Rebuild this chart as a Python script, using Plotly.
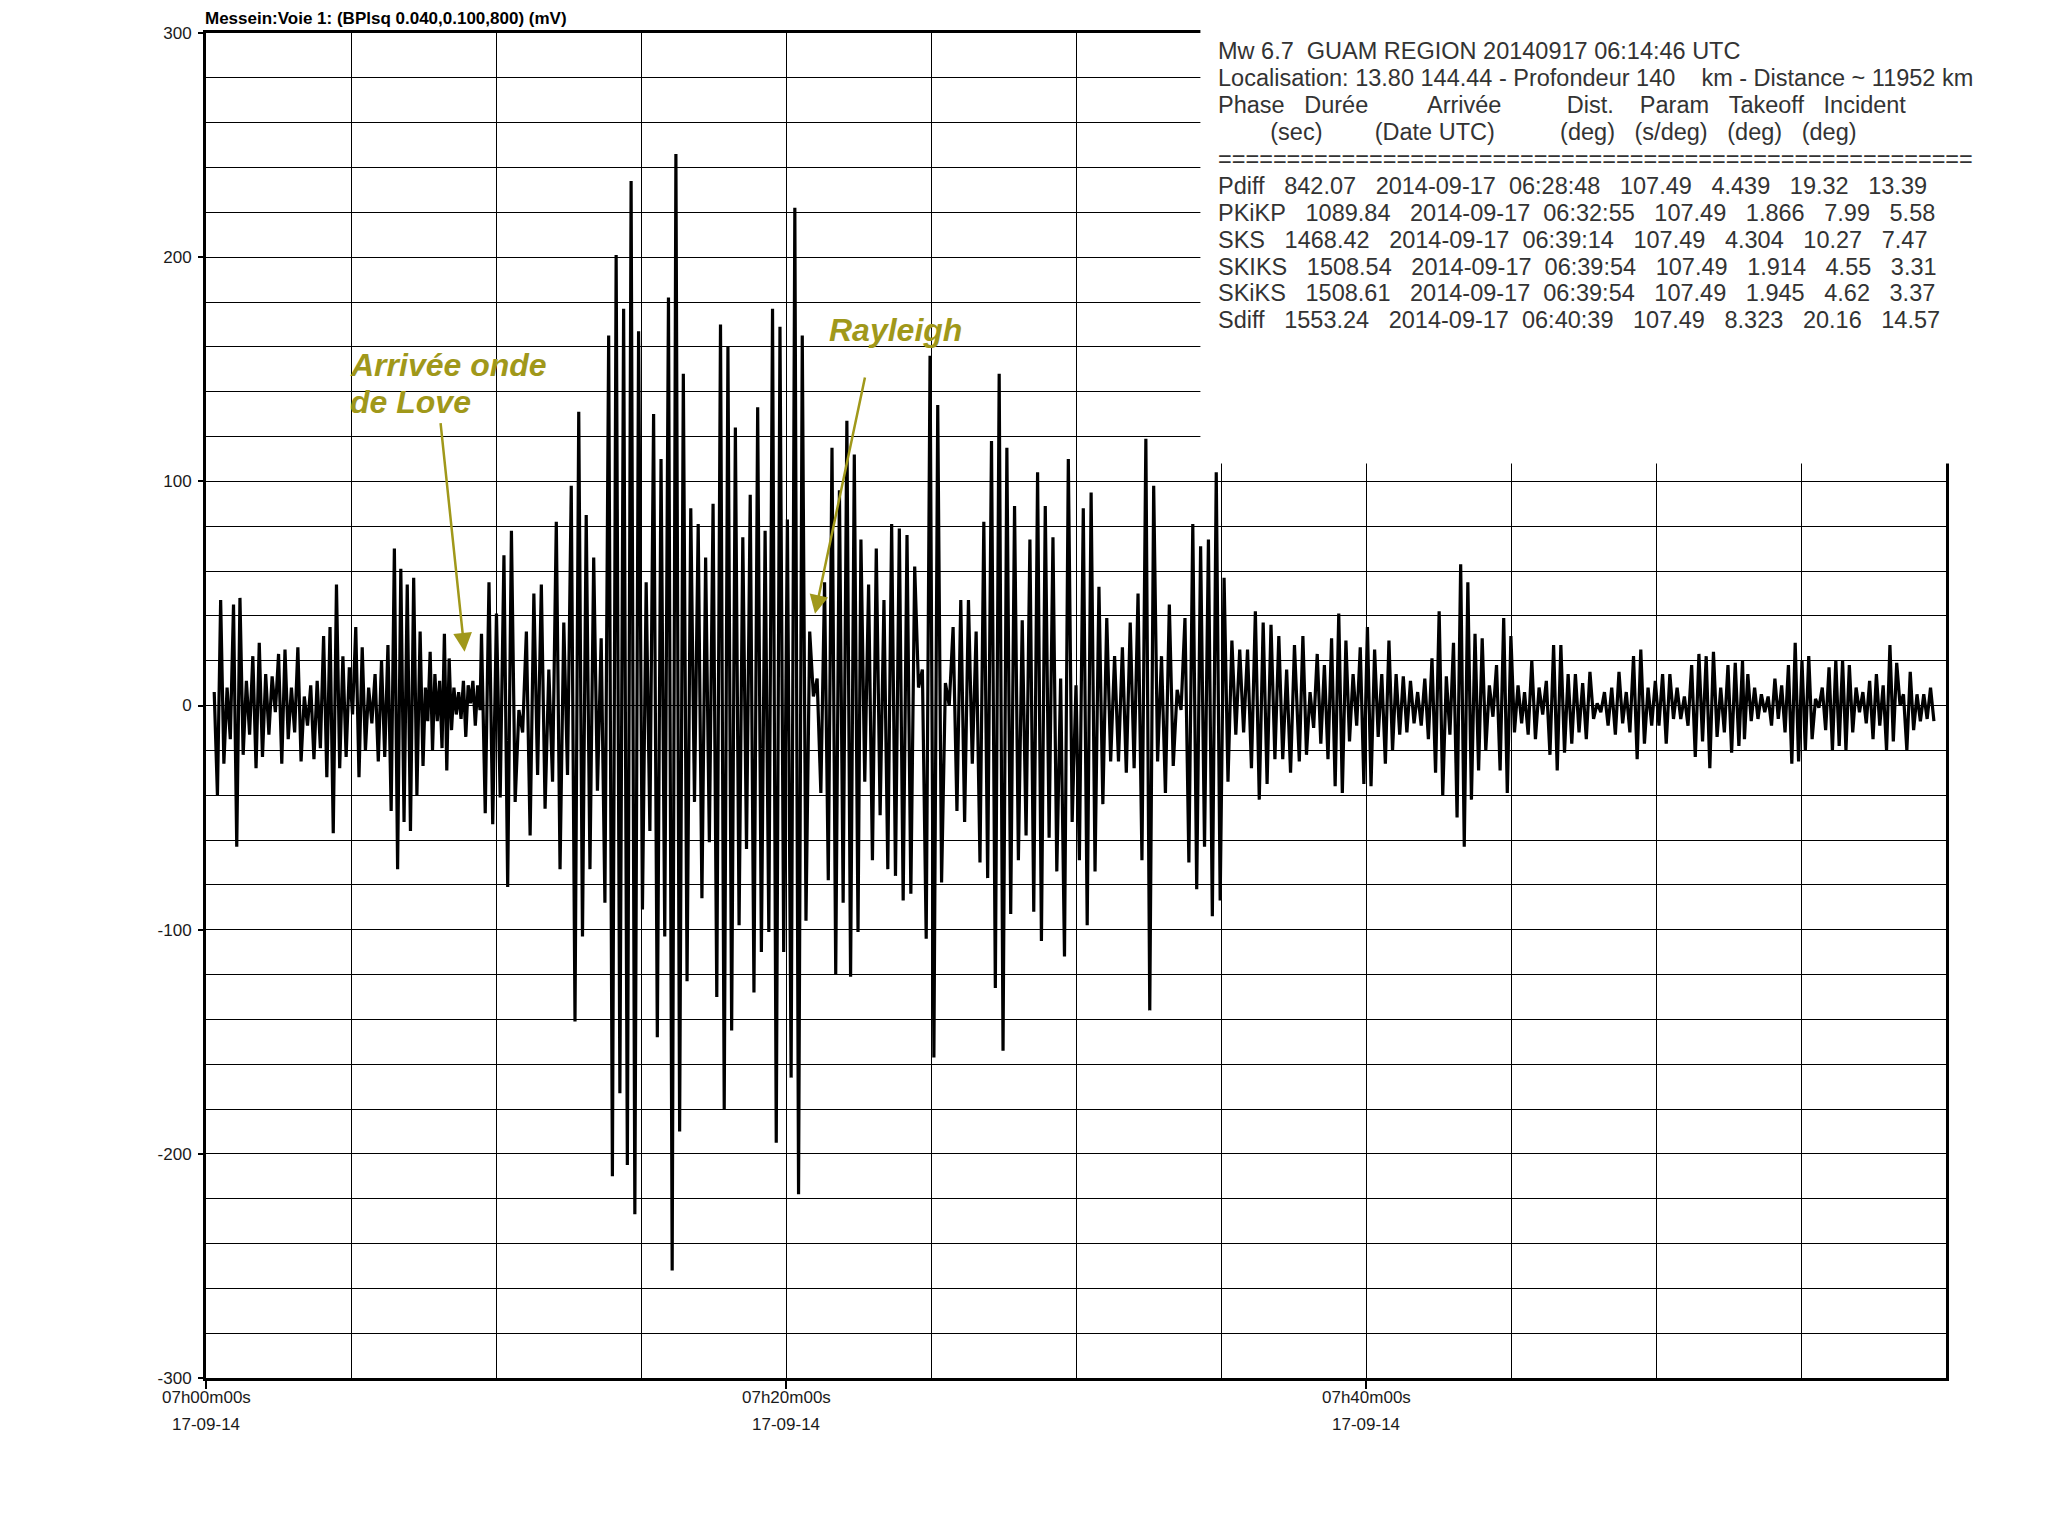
import numpy as np
import pandas as pd
import plotly.graph_objects as go

START = pd.Timestamp("2014-09-17 07:00:00")

##### Seismogram, read as successive peaks / troughs (mV), segment by segment
# segment bounds in seconds after 07h00m00s
SEG_T0 = [17, 449, 570, 903, 1355, 1807, 2262, 2728, 3183]
SEG_T1 = [443, 567, 895, 1349, 1800, 2252, 2722, 3179, 3575]

SEG1 = [6, -40, 47, -26, 8, -15, 45, -63, 48, -22, 11, -13, 22, -28, 28, -23, 14, -13, 13, -3,
        23, -26, 25, -15, 8, -12, 26, -25, 4, -9, 9, -24, 11, -19, 31, -32, 35, -57, 54, -28,
        22, -23, 17, -4, 35, -32, 26, -20, 8, -8, 14, -25, 20, -23, 27, -47, 70, -73, 61, -52,
        54, -56, 57, -40, 33]
SEG2A = [-27, 8, -7, 24, -20, 14, -7, 11, -19, 32, -29, 21, -11, 8, -4, 6, -6, 11, -14, 9,
         1, 11, -9, 9, -2]
SEG2B = [32, -48, 55, -53, 41, -41, 67, -81, 78, -43, -2, -12, 33, -58, 50, -31, 54, -46, 16, -34,
         82, -73, 37, -31, 98, -141, 131, -103, 85, -73, 66, -38, 30, -88, 165, -210, 201, -173, 177, -205,
         234, -227, 167]
SEG3 = [-91, 55, -56, 130, -148, 110, -103, 182, -252, 246, -190, 148, -123, 88, -43, 81, -86, 66, -61, 90,
        -130, 170, -180, 160, -145, 124, -98, 75, -64, 94, -128, 133, -110, 78, -101, 177, -195, 169, -110, 83,
        -166, 222, -218, 165, -96, 33, 4, 12, -39, 55, -78, 115, -120, 96, -88, 127, -121, 112, -101]
SEG4 = [74, -34, 54, -69, 70, -49, 47, -73, 81, -76, 79, -87, 76, -84, 62, 8, 16, -104, 156, -157,
        134, -79, 10, 0, 35, -47, 47, -52, 47, -26, 33, -70, 82, -77, 118, -126, 148, -154, 115, -93,
        89, -69, 38, -58, 74, -92, 104, -105, 89, -59, 75, -74, 12, -112, 110, -52, 9]
SEG5 = [-69, 88, -98, 95, -74, 53, -44, 39, -25, 22, -25, 26, -30, 37, -28, 50, -69, 119, -136, 98,
        -25, 22, -39, 45, -27, 7, -2, 39, -70, 81, -82, 71, -63, 74, -94, 104, -87, 57, -34, 29,
        -13, 25, -12, 25, -28, 42, -42, 37, -35, 36, -24, 31, -24, 16, -30, 27]
SEG6 = [-25, 31, -22, 6, -10, 23, -17, 18, -24, 30, -36, 41, -39, 29, -16, 14, -9, 26, -35, 35,
        -36, 25, -14, 14, -26, 29, -20, 14, -13, 13, -12, 11, -8, 6, -9, 12, -15, 21, -30, 42,
        -40, 13, -13, 28, -50, 63, -63, 55, -42, 32, -29, 30, -20, 9, -5, 18, -29, 39, -39, 31,
        -12, 9, -8]
SEG7 = [6, -13, 20, -15, 8, -4, 11, -22, 27, -29, 27, -21, 14, -17, 14, -12, 10, -15, 15, -6,
        1, -3, 6, -9, 8, -13, 15, -8, 6, -12, 22, -24, 25, -17, 8, -9, 11, -9, 14, -17,
        14, -6, 8, -6, 4, -9, 18, -23, 23, -16, 22, -28, 24, -14, 8, -12, 18, -21, 19, -18, 20]
SEG8 = [-15, 14, -7, 8, -6, 5, -3, 4, -9, 12, -6, 9, -12, 18, -26, 28, -25, 20, -20, 22,
        -15, 3, -1, 8, -11, 17, -20, 20, -18, 20, -20, 18, -12, 8, -3, 6, -8, 11, -15, 14,
        -9, 9, -20, 27, -16, 19, 0, 5, -20, 15, -11, 5, -7, 5, -6, 8, -7]

##### Axis ticks
X_TICKS = ["2014-09-17 07:00:00", "2014-09-17 07:20:00", "2014-09-17 07:40:00"]
X_TICK_LABELS = ["07h00m00s", "07h20m00s", "07h40m00s"]
X_DATE_LABELS = ["17-09-14", "17-09-14", "17-09-14"]
Y_TICKS = [-300, -200, -100, 0, 100, 200, 300]
Y_TICK_LABELS = ["-300", "-200", "-100", "0", "100", "200", "300"]

TITLE = "Messein:Voie 1: (BPlsq 0.040,0.100,800) (mV)"

INFO_LINES = [
    "Mw 6.7  GUAM REGION 20140917 06:14:46 UTC",
    "Localisation: 13.80 144.44 - Profondeur 140    km - Distance ~ 11952 km",
    "Phase   Durée         Arrivée          Dist.    Param   Takeoff   Incident",
    "        (sec)        (Date UTC)          (deg)   (s/deg)   (deg)   (deg)",
    "=" * 55,
    "Pdiff   842.07   2014-09-17  06:28:48   107.49   4.439   19.32   13.39",
    "PKiKP   1089.84   2014-09-17  06:32:55   107.49   1.866   7.99   5.58",
    "SKS   1468.42   2014-09-17  06:39:14   107.49   4.304   10.27   7.47",
    "SKIKS   1508.54   2014-09-17  06:39:54   107.49   1.914   4.55   3.31",
    "SKiKS   1508.61   2014-09-17  06:39:54   107.49   1.945   4.62   3.37",
    "Sdiff   1553.24   2014-09-17  06:40:39   107.49   8.323   20.16   14.57",
]

OLIVE = "#a0981a"
FONT = "Liberation Sans, Arial"

##### build the trace
segments = [SEG1, SEG2A, SEG2B, SEG3, SEG4, SEG5, SEG6, SEG7, SEG8]
times = []
values = []
for t0, t1, seg in zip(SEG_T0, SEG_T1, segments):
    sec = np.linspace(t0, t1, len(seg))
    times.extend(START + pd.to_timedelta(sec, unit="s"))
    values.extend(seg)

fig = go.Figure()
fig.add_trace(go.Scatter(x=times, y=values, mode="lines",
                         line=dict(color="black", width=3.2),
                         showlegend=False, hoverinfo="skip"))

fig.update_layout(
    width=2032,
    height=1517,
    margin=dict(l=198, r=94, t=25, b=147),
    paper_bgcolor="white",
    plot_bgcolor="white",
    font=dict(family=FONT, color="#1a1a1a"),
    showlegend=False,
)

fig.update_xaxes(
    type="date",
    range=["2014-09-17 07:00:00", "2014-09-17 08:00:00"],
    tickmode="array",
    tickvals=X_TICKS,
    ticktext=["" for _ in X_TICKS],
    ticks="outside", ticklen=8, tickwidth=2, tickcolor="black",
    showgrid=True, gridcolor="black", gridwidth=1,
    minor=dict(tickmode="linear", tick0="2014-09-17 07:00:00", dtick=300000,
               showgrid=True, gridcolor="black", gridwidth=1, ticks=""),
    showline=True, linecolor="black", linewidth=3, mirror=True,
    zeroline=False,
)
fig.update_yaxes(
    range=[-300, 300],
    tickmode="array",
    tickvals=Y_TICKS,
    ticktext=Y_TICK_LABELS,
    tickfont=dict(size=17, color="#1a1a1a"),
    ticks="outside", ticklen=5, tickwidth=2, tickcolor="black",
    ticklabelstandoff=3,
    showgrid=True, gridcolor="black", gridwidth=1,
    minor=dict(tickmode="linear", tick0=0, dtick=20,
               showgrid=True, gridcolor="black", gridwidth=1, ticks=""),
    showline=True, linecolor="black", linewidth=3, mirror=True,
    zeroline=False,
)

# white panel holding the event information (hides grid and frame there)
fig.add_shape(type="rect", xref="paper", yref="paper",
              x0=0.5715, x1=1.03, y0=0.68, y1=1.03,
              fillcolor="white", line=dict(width=0), layer="above")

for i, line in enumerate(INFO_LINES):
    fig.add_annotation(text=line.replace(" ", "\u00a0"),
                       xref="paper", yref="paper",
                       x=0.5826, y=0.9867 - i * 0.02004, xshift=-4,
                       xanchor="left", yanchor="middle", showarrow=False,
                       font=dict(size=23.5, color="#333333", family=FONT))

# channel title
fig.add_annotation(text="<b>" + TITLE + "</b>", xref="paper", yref="paper",
                   x=0, y=1, xanchor="left", yanchor="bottom", yshift=3, xshift=-3,
                   showarrow=False, font=dict(size=17, color="black"))

# time and date lines under each tick
for tv, tl, dl in zip(X_TICKS, X_TICK_LABELS, X_DATE_LABELS):
    fig.add_annotation(text=tl, xref="x", yref="paper", x=tv, y=0,
                       yanchor="middle", yshift=-19, showarrow=False,
                       font=dict(size=17, color="#1a1a1a"))
    fig.add_annotation(text=dl, xref="x", yref="paper", x=tv, y=0,
                       yanchor="middle", yshift=-46, showarrow=False,
                       font=dict(size=17, color="#1a1a1a"))

# wave arrivals
fig.add_annotation(text="<b><i>Arrivée onde</i></b>", xref="x", yref="y",
                   x="2014-09-17 07:05:05", y=151.7, xanchor="left", yanchor="middle",
                   xshift=-5, showarrow=False, font=dict(size=32, color=OLIVE))
fig.add_annotation(text="<b><i>de Love</i></b>", xref="x", yref="y",
                   x="2014-09-17 07:05:05", y=135.3, xanchor="left", yanchor="middle",
                   xshift=-5, showarrow=False, font=dict(size=32, color=OLIVE))
fig.add_annotation(text="", xref="x", yref="y", axref="x", ayref="y",
                   x="2014-09-17 07:08:55", y=24, ax="2014-09-17 07:08:05", ay=126.6,
                   showarrow=True, arrowhead=2, arrowsize=1.5, arrowwidth=2.5,
                   arrowcolor=OLIVE)
fig.add_annotation(text="<b><i>Rayleigh</i></b>", xref="x", yref="y",
                   x="2014-09-17 07:21:32", y=167.5, xanchor="left", yanchor="middle",
                   xshift=-3, showarrow=False, font=dict(size=32, color=OLIVE))
fig.add_annotation(text="", xref="x", yref="y", axref="x", ayref="y",
                   x="2014-09-17 07:21:00", y=40.9, ax="2014-09-17 07:22:44", ay=147,
                   showarrow=True, arrowhead=2, arrowsize=1.5, arrowwidth=2.5,
                   arrowcolor=OLIVE)

fig.write_html("out.html")
